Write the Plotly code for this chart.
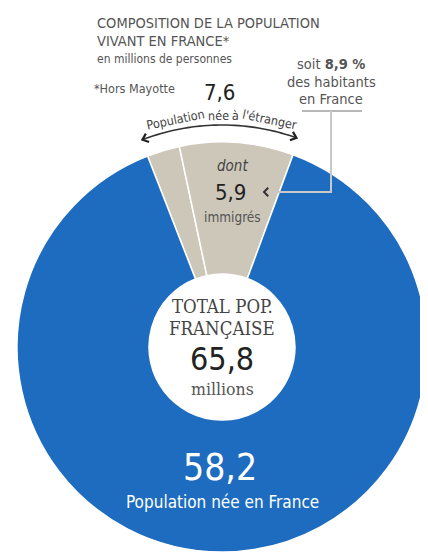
import math
import plotly.graph_objects as go

# page size and default body margin of the html page
PAGE_W, PAGE_H = 428, 552
OFF = 8
W, H = PAGE_W - OFF, PAGE_H - OFF

# ---- data ----
slice_labels = ["Autres personnes nées à l'étranger", "Immigrés", "Population née en France"]
slice_values = [1.7, 5.9, 58.2]
slice_colors = ["#cdc7b9", "#cdc7b9", "#1d6cbf"]
total_pop = 65.8
born_abroad = 7.6
immigrants = 5.9
born_france = 58.2
share_pct = 8.9

def fr(v):
    return f"{v:.1f}".replace(".", ",")

SANS = "Liberation Sans Narrow, DejaVu Sans Condensed, Roboto, sans-serif"
SERIF = "DejaVu Serif Condensed, DejaVu Serif, serif"

# pie geometry (page pixels)
CX, CY, R = 222, 347, 205
HOLE = 0.356

def P(x, y):
    return (x - OFF) / W, 1 - (y - OFF) / H

x0, y1 = P(CX - R, CY - R)
x1, y0 = P(CX + R, CY + R)

fig = go.Figure()
fig.add_trace(go.Pie(
    labels=slice_labels, values=slice_values, sort=False,
    direction="clockwise", rotation=-21.3, hole=HOLE,
    marker=dict(colors=slice_colors, line=dict(color="#ffffff", width=1.5)),
    textinfo="none", hoverinfo="label+value", showlegend=False,
    domain=dict(x=[max(0, x0), min(1, x1)], y=[max(0, y0), min(1, y1)]),
))

ann = []
def txt(x, y, text, size, color, family=SANS, xanchor="center", angle=0):
    px, py = P(x, y)
    ann.append(dict(x=px, y=py, xref="paper", yref="paper", text=text, showarrow=False,
                    font=dict(size=size, color=color, family=family),
                    xanchor=xanchor, yanchor="middle", textangle=angle))

# title block
txt(95, 23, "COMPOSITION DE LA POPULATION", 14.5, "#555555", xanchor="left")
txt(95, 41, "VIVANT EN FRANCE*", 14.5, "#555555", xanchor="left")
txt(95, 59, "en millions de personnes", 12, "#555555", xanchor="left")
txt(92, 88, "*Hors Mayotte", 12.5, "#555555", xanchor="left")

# born abroad
txt(219, 92, fr(born_abroad), 22, "#222222")
words = [("Population", -11.6), ("née", -0.9), ("à", 3.4), ("l'étranger", 11.8)]
for w, th in words:
    r = 232
    x = CX + r * math.sin(math.radians(th))
    y = CY - r * math.cos(math.radians(th))
    txt(x, y, w, 12.5, "#444444", angle=th)

# callout
txt(331, 64, f"soit <b>{fr(share_pct)} %</b>", 14.5, "#555555")
txt(331, 82, "des habitants", 14.5, "#555555")
txt(331, 99, "en France", 14.5, "#555555")

# inside grey wedge
txt(232, 166, "<i>dont</i>", 15, "#444444")
txt(230, 192, fr(immigrants), 22, "#222222")
txt(232, 217, "immigrés", 13.5, "#555555")

# hole
txt(222, 306, "TOTAL POP.", 18.5, "#444444", family=SERIF)
txt(222, 328, "FRANÇAISE", 18.5, "#444444", family=SERIF)
txt(222, 359, fr(total_pop), 32, "#222222")
txt(222, 389, "millions", 17.5, "#555555", family=SERIF)

# born in France
txt(220, 467, fr(born_france), 37, "#ffffff")
txt(223, 502, "Population née en France", 17, "#ffffff")

shapes = []
def path_from(points):
    s = ""
    for i, (x, y) in enumerate(points):
        px, py = P(x, y)
        s += ("M" if i == 0 else "L") + f"{px:.5f},{py:.5f} "
    return s.strip()

def line(points, color, width):
    shapes.append(dict(type="path", xref="paper", yref="paper", path=path_from(points),
                       line=dict(color=color, width=width)))

def chevron(tip, direction, color, width=2, length=7, spread=40):
    dx, dy = direction
    n = math.hypot(dx, dy)
    dx, dy = dx / n, dy / n
    pts = []
    for s in (spread, -spread):
        a = math.radians(s)
        bx = -(dx * math.cos(a) - dy * math.sin(a))
        by = -(dx * math.sin(a) + dy * math.cos(a))
        pts.append((tip[0] + bx * length, tip[1] + by * length))
    line([pts[0], tip, pts[1]], color, width)

# double arrow arc
ra, a0, a1 = 222, -21.0, 19.6
arc = []
n = 40
for i in range(n + 1):
    th = math.radians(a0 + (a1 - a0) * i / n)
    arc.append((CX + ra * math.sin(th), CY - ra * math.cos(th)))
line(arc, "#333333", 1.6)
t0 = math.radians(a0); t1 = math.radians(a1)
chevron(arc[0], (-math.cos(t0), -math.sin(t0)), "#222222", 2.2, 7)
chevron(arc[-1], (math.cos(t1), math.sin(t1)), "#222222", 2.2, 7)

# callout lines
line([(302, 111), (362, 111)], "#b8b8b8", 2)
line([(331, 111), (331, 192), (272, 192)], "#c8c8c8", 2)
chevron((264, 192), (-1, 0), "#333333", 2, 6, 45)

fig.update_layout(
    width=W, height=H, margin=dict(l=0, r=0, t=0, b=0),
    paper_bgcolor="#ffffff", plot_bgcolor="#ffffff",
    annotations=ann, shapes=shapes, showlegend=False,
)
fig.write_html("out.html")
